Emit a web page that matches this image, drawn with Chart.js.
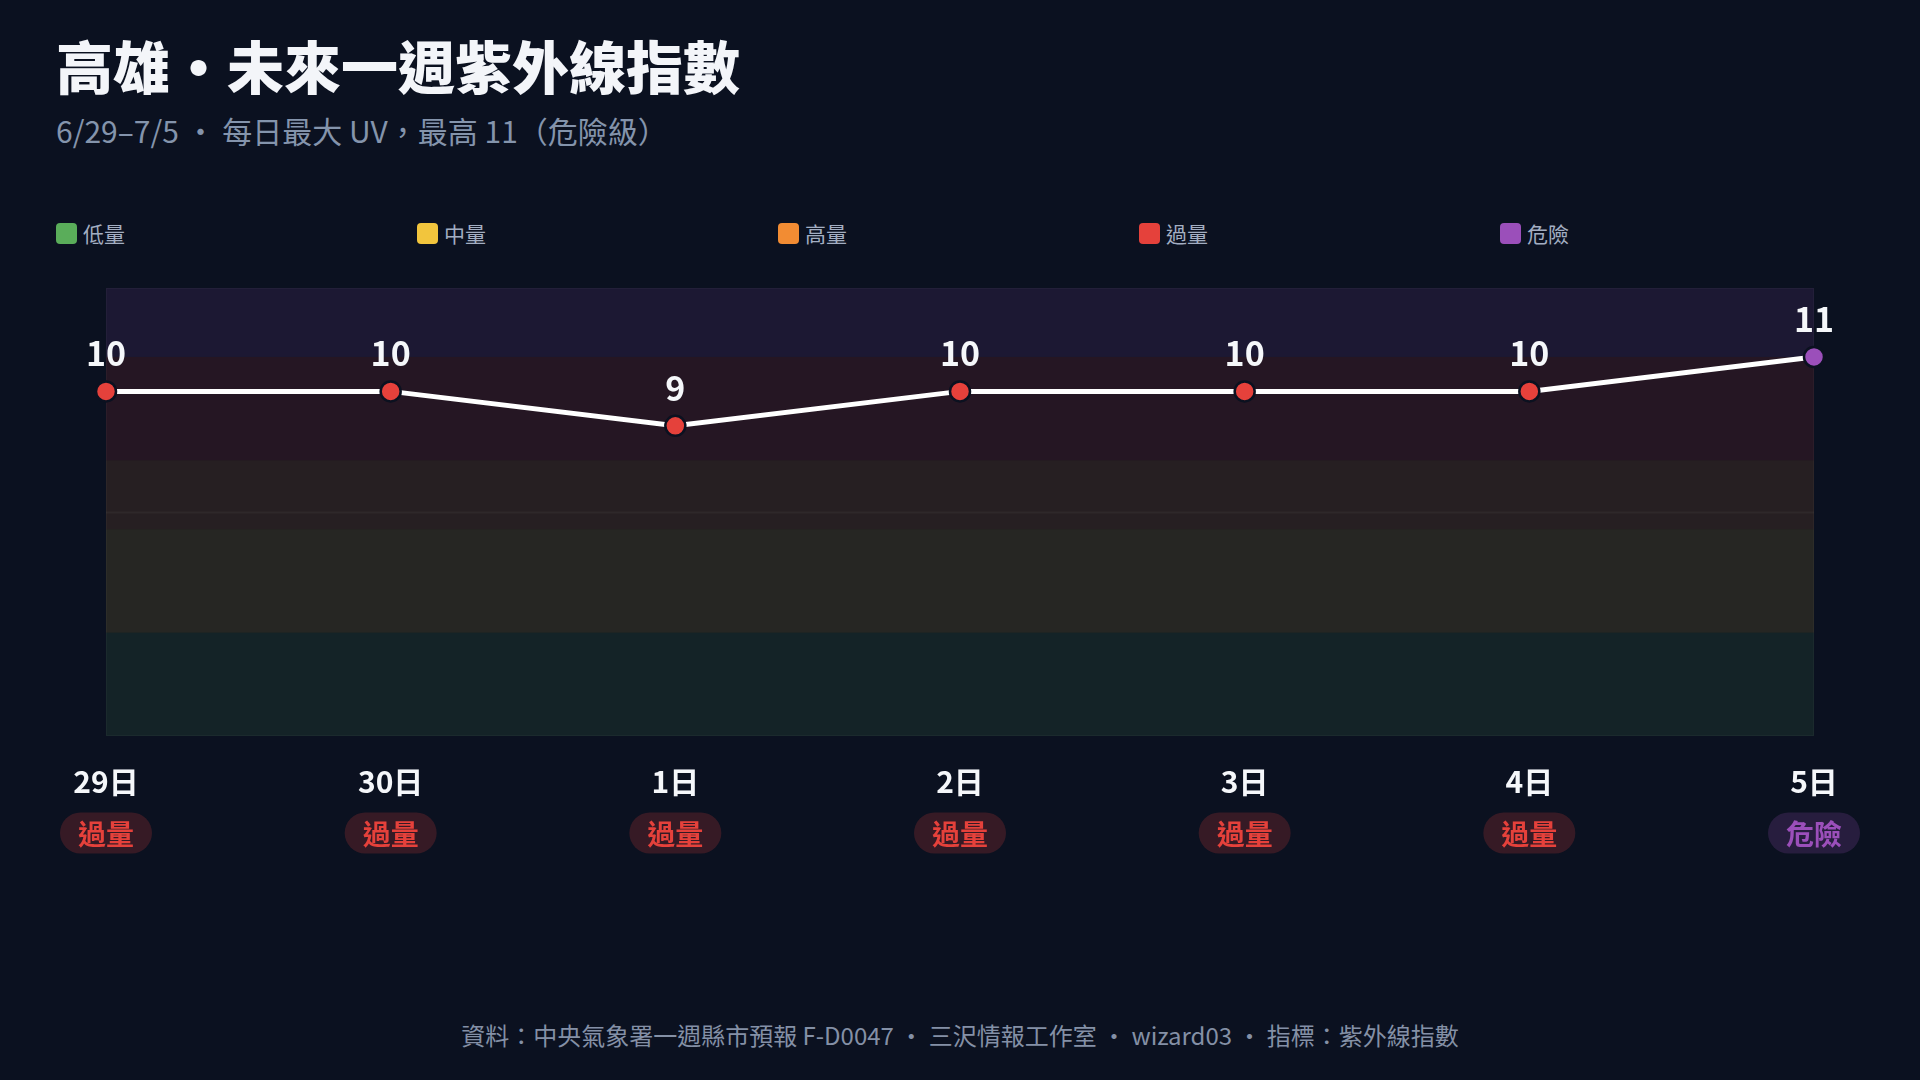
<!DOCTYPE html>
<html>
<head>
<meta charset="utf-8">
<script src="https://cdn.jsdelivr.net/npm/chart.js@4.4.1/dist/chart.umd.min.js"></script>
<style>
  html, body { margin: 0; padding: 0; background: #0b1120; }
  body { width: 1920px; height: 1080px; position: relative; overflow: hidden;
         font-family: "Noto Sans CJK TC", "Noto Sans", sans-serif; }
  #title { position: absolute; left: 56px; top: 36px; margin: 0; font-size: 57px; line-height: 1;
           font-weight: 900; color: #f3f5f9; letter-spacing: 0; }
  #subtitle { position: absolute; left: 56px; top: 115px; font-size: 30px; line-height: 1;
              color: #8494ac; }
  #legend { position: absolute; left: 56px; top: 223px; height: 21px; }
  .item { position: absolute; top: 0; display: flex; align-items: center; white-space: nowrap;
          font-size: 21px; line-height: 21px; color: #a3aec2; }
  .item span.box { width: 21px; height: 21px; border-radius: 4px; margin-right: 6px; }
  #wrap { position: absolute; left: 0; top: 260px; width: 1920px; height: 640px; }
  #footer { position: absolute; left: 0; width: 1920px; top: 1023px; text-align: center;
            font-size: 24px; line-height: 1; color: #8490a6; }
</style>
</head>
<body>
<h1 id="title">高雄・未來一週紫外線指數</h1>
<div id="subtitle">6/29–7/5 ・ 每日最大 UV，最高 11（危險級）</div>
<div id="legend"></div>
<div id="wrap"><canvas id="uv"></canvas></div>
<div id="footer">資料：中央氣象署一週縣市預報 F-D0047 ・ 三沢情報工作室 ・ wizard03 ・ 指標：紫外線指數</div>

<script>
// data
const days = ['29日', '30日', '1日', '2日', '3日', '4日', '5日'];
const uvMax = [10, 10, 9, 10, 10, 10, 11];

// UV levels (band from / to in index units)
const levelNames = ['低量', '中量', '高量', '過量', '危險'];
const levelFrom = [0, 3, 6, 8, 11];
const levelTo = [3, 6, 8, 11, 13];
const levelColors = ['#5aad5a', '#f2c53d', '#f28c33', '#e5413b', '#9b4fba'];
const guideLine = 6.5; // faint line seen in the original

const BG = '#0b1120';
const FONT = '"Noto Sans CJK TC", "Noto Sans", sans-serif';

function levelOf(v) {
  let idx = 0;
  levelFrom.forEach((f, i) => { if (v >= f) idx = i; });
  return idx;
}

function alpha(hex, a) {
  const n = parseInt(hex.slice(1), 16);
  return 'rgba(' + (n >> 16) + ',' + ((n >> 8) & 255) + ',' + (n & 255) + ',' + a + ')';
}

// legend (fixed columns like the original)
var legendHtml = '';
levelNames.forEach((name, i) => {
  legendHtml += `<div class="item" style="left:${i * 361}px"><span class="box" style="background:${levelColors[i]}"></span>${name}</div>`;
});
document.getElementById('legend').innerHTML = legendHtml;

// colored background bands behind the line
const bandPlugin = {
  id: 'bands',
  beforeDatasetsDraw(chart) {
    const { ctx, chartArea: a, scales: { y } } = chart;
    ctx.save();
    levelNames.forEach((n, i) => {
      const top = y.getPixelForValue(levelTo[i]);
      const bot = y.getPixelForValue(levelFrom[i]);
      ctx.fillStyle = alpha(levelColors[i], 0.12);
      ctx.fillRect(a.left, top, a.right - a.left, bot - top);
    });
    // faint guide + frame
    const gy = Math.round(y.getPixelForValue(guideLine)) + 0.5;
    ctx.strokeStyle = 'rgba(255,255,255,0.04)';
    ctx.lineWidth = 2;
    ctx.beginPath();
    ctx.moveTo(a.left, gy);
    ctx.lineTo(a.right, gy);
    ctx.stroke();
    ctx.lineWidth = 1;
    ctx.strokeStyle = 'rgba(255,255,255,0.03)';
    ctx.strokeRect(a.left + 0.5, a.top + 0.5, a.right - a.left - 1, a.bottom - a.top - 1);
    ctx.restore();
  }
};

// value labels above points + level pills under the day labels
const labelPlugin = {
  id: 'labels',
  afterDatasetsDraw(chart) {
    const { ctx, chartArea: a, scales: { x } } = chart;
    const meta = chart.getDatasetMeta(0);
    ctx.save();
    ctx.textAlign = 'center';
    ctx.textBaseline = 'alphabetic';
    ctx.fillStyle = '#f5f7fa';
    ctx.font = 'bold 34px ' + FONT;
    meta.data.forEach((pt, i) => {
      ctx.fillText(String(uvMax[i]), pt.x, pt.y - 25);
    });

    ctx.textBaseline = 'middle';
    ctx.font = 'bold 28px ' + FONT;
    days.forEach((d, i) => {
      const lv = levelOf(uvMax[i]);
      const cx = x.getPixelForValue(i);
      const cy = a.bottom + 97;
      const w = 92, h = 41;
      ctx.fillStyle = alpha(levelColors[lv], 0.2);
      ctx.beginPath();
      ctx.roundRect(cx - w / 2, cy - h / 2, w, h, h / 2);
      ctx.fill();
      ctx.fillStyle = levelColors[lv];
      ctx.fillText(levelNames[lv], cx, cy + 1);
    });
    ctx.restore();
  }
};

new Chart(document.getElementById('uv'), {
  type: 'line',
  data: {
    labels: days,
    datasets: [
      {
        label: 'UV',
        data: uvMax,
        borderColor: '#ffffff',
        borderWidth: 5,
        tension: 0,
        pointRadius: 10,
        pointHoverRadius: 10,
        pointBorderWidth: 2.5,
        pointBorderColor: BG,
        pointBackgroundColor: uvMax.map(v => levelColors[levelOf(v)])
      }
    ]
  },
  options: {
    responsive: true,
    maintainAspectRatio: false,
    animation: false,
    layout: { padding: { left: 106, right: 106, top: 28, bottom: 72 } },
    plugins: {
      legend: { display: false },
      tooltip: { enabled: false }
    },
    scales: {
      x: {
        offset: false,
        grid: { display: false, drawTicks: false },
        border: { display: false },
        ticks: {
          color: '#f5f7fa',
          padding: 28,
          maxRotation: 0,
          font: { family: FONT, size: 30, weight: 'bold' }
        }
      },
      y: {
        display: false,
        min: 0,
        max: 13
      }
    }
  },
  plugins: [bandPlugin, labelPlugin]
});
</script>
</body>
</html>
